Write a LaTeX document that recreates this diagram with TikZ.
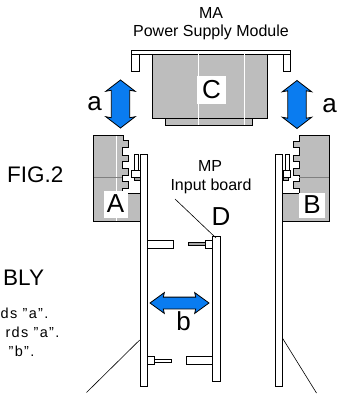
\documentclass[tikz,border=0pt]{standalone}
\usepackage{fontspec}
\setmainfont{Liberation Sans}
\usetikzlibrary{shapes.arrows}
\definecolor{moveblue}{HTML}{0A7CF0}
\definecolor{hatchgray}{HTML}{BDBDBD}
\tikzstyle{part}=[draw, line width=0.9pt, fill=white]
\tikzstyle{hatched}=[part, fill=hatchgray]
\tikzstyle{rod}=[draw, line width=0.8pt, fill=gray!70]
\tikzstyle{leader}=[draw, line width=0.6pt]
\tikzstyle{vmove}=[draw, line width=0.8pt, fill=moveblue, double arrow, inner sep=8.8pt, shape border rotate=90, minimum height=48pt, double arrow head extend=5.5pt, double arrow tip angle=105, double arrow head indent=1pt]
\tikzstyle{hmove}=[draw, line width=0.8pt, fill=moveblue, double arrow, inner sep=5.5pt, minimum height=59pt, double arrow head extend=4.5pt, double arrow tip angle=72, double arrow head indent=1pt]
\tikzstyle{small}=[inner sep=0pt, font=\fontsize{14.5}{15}\selectfont\addfontfeature{LetterSpace=9}]
\tikzstyle{medium}=[inner sep=0pt, font=\fontsize{16}{17}\selectfont]
\tikzstyle{large}=[inner sep=0pt, font=\fontsize{22.5}{23}\selectfont]
\tikzstyle{letter}=[inner sep=0pt, font=\fontsize{26}{26}\selectfont]
\tikzstyle{letterbox}=[letter, fill=white]

\begin{document}
\begin{tikzpicture}[x=1pt, y=-1pt]
        \useasboundingbox (0, 0) rectangle (355, 396);
        % power supply module
        \draw[part] (131.5, 50.5) rectangle (290.5, 54);
        \draw[part] (131.5, 54) rectangle (139.5, 71);
        \draw[part] (283, 54) rectangle (290.5, 71);
        \draw[hatched] (165.5, 118) rectangle (252.5, 125);
        \draw[hatched] (152.5, 54) rectangle (267.5, 118);
        \draw[white, line width=0.8pt] (198, 54.5) -- (198, 124.5);
        \draw[white, line width=0.8pt] (244, 54.5) -- (244, 124.5);
        \node[letterbox, minimum width=29pt, minimum height=28pt] (C) at (211.5, 90) {C};
        \node[medium] (MA) at (211, 12.5) {MA};
        \node[medium] (PSM) at (211, 32) {Power Supply Module};
        % blocks at the sides
        \draw[hatched] (93.5, 135) -- (123, 135) -- (123, 140) -- (128.5, 140) -- (128.5, 147.5) -- (122, 147.5) -- (122, 155) -- (128.5, 155) -- (128.5, 161.5) -- (122, 161.5) -- (122, 168.5) -- (128.5, 168.5) -- (128.5, 175) -- (122, 175) -- (122, 181.5) -- (128.5, 181.5) -- (128.5, 188.5) -- (122, 188.5) -- (122, 193) -- (140, 193) -- (140, 221) -- (93.5, 221) -- cycle;
        \draw[hatched] (329.5, 135) -- (299, 135) -- (299, 141) -- (293.5, 141) -- (293.5, 147.5) -- (299, 147.5) -- (299, 155) -- (293.5, 155) -- (293.5, 161.5) -- (299, 161.5) -- (299, 168.5) -- (293.5, 168.5) -- (293.5, 175) -- (299, 175) -- (299, 181.5) -- (293.5, 181.5) -- (293.5, 188.5) -- (299, 188.5) -- (299, 193) -- (282.5, 193) -- (282.5, 221) -- (329.5, 221) -- cycle;
        \draw[white, line width=0.8pt] (116.5, 135.5) -- (116.5, 220.5);
        \draw[gray, line width=0.4pt] (94, 177) -- (122, 177);
        \draw[gray, line width=0.4pt] (299, 177) -- (329, 177);
        \node[letterbox, minimum width=24pt, minimum height=27pt] (A) at (115.5, 204) {A};
        \node[letterbox, minimum width=26pt, minimum height=25pt] (B) at (312, 205) {B};
        % boards
        \draw[part] (140, 154) rectangle (147, 386);
        \draw[part] (275.5, 154) rectangle (282.5, 386);
        \draw[part] (212.5, 236) rectangle (220, 381);
        % connectors at the top of the boards
        \draw[part] (134.5, 154) rectangle (138, 170);
        \draw[rod] (134.5, 177) rectangle (140, 180);
        \draw[part] (131.5, 170) rectangle (140, 177);
        \draw[part] (285.5, 154) rectangle (289.5, 170);
        \draw[rod] (283, 177) rectangle (288, 180);
        \draw[part] (283, 170) rectangle (290.5, 177);
        % pins between the boards
        \draw[part] (147, 240) rectangle (173, 248);
        \draw[rod] (188.5, 242.5) rectangle (205, 245.5);
        \draw[part] (205, 240) rectangle (212.5, 248);
        \draw[part] (186, 356.5) rectangle (212.5, 364);
        \draw[part] (154, 359) rectangle (171, 362);
        \draw[part] (147, 356.5) rectangle (154, 364);
        % movement
        \node[vmove] (moveL) at (120.5, 104) {};
        \node[vmove] (moveR) at (297, 104.5) {};
        \node[hmove] (moveB) at (179.5, 303) {};
        \node[letter] (aL) at (94.5, 104) {a};
        \node[letter] (aR) at (329.5, 106) {a};
        \node[letter] (b) at (183.5, 321.5) {b};
        \node[letter] (D) at (221, 217) {D};
        % labels
        \node[medium] (MP) at (210, 165.5) {MP};
        \node[medium] (IB) at (211, 186) {Input board};
        \node[large, anchor=west] (FIG) at (7, 175) {FIG.2};
        \node[large, anchor=west] (BLY) at (3, 277.5) {BLY};
        \node[small, anchor=east] (note1) at (48.5, 313) {ds "a".};
        \node[small, anchor=east] (note2) at (59.5, 332.5) {rds "a".};
        \node[small, anchor=east] (note3) at (34.5, 351.5) {"b".};
        % leaders
        \coordinate (ibEnd) at (175, 199);
        \coordinate (dEnd) at (216, 238);
        \coordinate (leftTop) at (139.7, 340);
        \coordinate (leftEnd) at (86.5, 392.5);
        \coordinate (rightTop) at (282.7, 338.5);
        \coordinate (rightEnd) at (316.5, 393);
        \draw[leader] (ibEnd) -- (dEnd);
        \draw[leader] (leftTop) -- (leftEnd);
        \draw[leader] (rightTop) -- (rightEnd);
    \end{tikzpicture}
\end{document}
